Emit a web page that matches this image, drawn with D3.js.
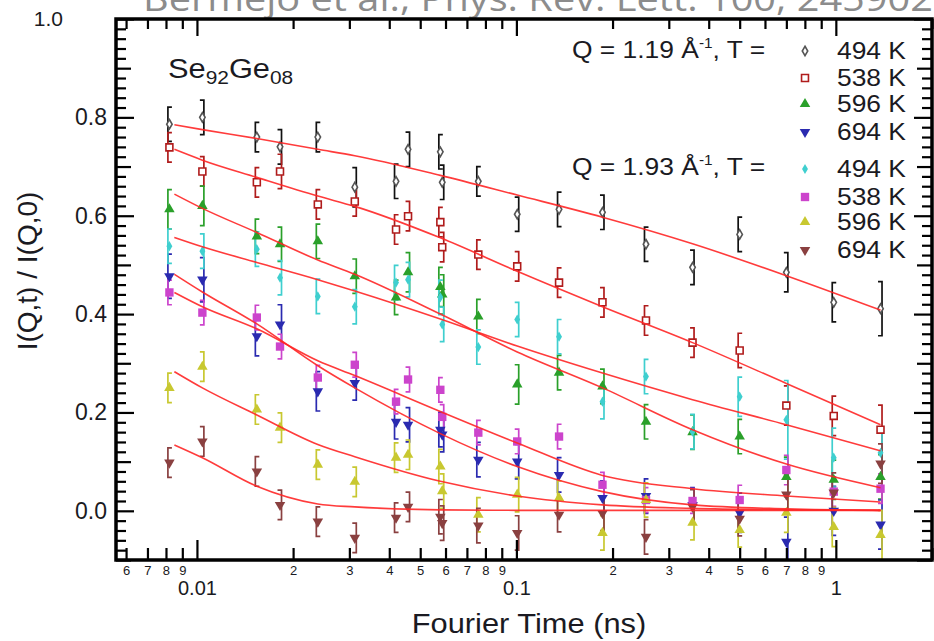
<!DOCTYPE html>
<html>
<head>
<meta charset="utf-8">
<script src="https://cdnjs.cloudflare.com/ajax/libs/d3/7.8.5/d3.min.js"></script>
<style>
  body { margin: 0; background: #fff; }
  svg { display: block; }
  text { font-family: "Liberation Sans", Arial, sans-serif; fill: #1a1a22; }
</style>
</head>
<body>
<svg id="chart" width="934" height="641"></svg>
<script>
// Fourier times (ns) of the measured points
const times = [0.0082, 0.0104, 0.0154, 0.0182, 0.0239, 0.0312, 0.0420, 0.0458, 0.0578, 0.0586,
               0.0760, 0.1006, 0.136, 0.186, 0.2545, 0.356, 0.500, 0.700, 0.985, 1.38];

// Q = 1.19 A^-1
const q119_494 = [0.786, 0.80, 0.76, 0.74, 0.76, 0.658, 0.67, 0.735, 0.73, 0.668, 0.67, 0.603, 0.613, 0.607, 0.542, 0.495, 0.562, 0.485, 0.424, 0.411];
const q119_538 = [0.739, 0.69, 0.668, 0.69, 0.623, 0.629, 0.572, 0.599, 0.587, 0.536, 0.521, 0.497, 0.464, 0.424, 0.387, 0.342, 0.326, 0.214, 0.193, 0.165];
const q119_596 = [0.613, 0.62, 0.558, 0.542, 0.548, 0.477, 0.434, 0.485, 0.455, 0.44, 0.395, 0.257, 0.281, 0.253, 0.181, 0.16, 0.151, 0.069, 0.063, 0.069];
const q119_694 = [0.477, 0.47, 0.355, 0.379, 0.243, 0.26, 0.181, 0.175, 0.165, 0.155, 0.104, 0.10, 0.073, 0.026, 0.03, 0.012, -0.004, -0.063, 0.0, -0.028];
// Q = 1.93 A^-1
const q193_494 = [0.538, 0.528, 0.532, 0.474, 0.436, 0.415, 0.464, 0.47, 0.434, 0.379, 0.333, 0.389, 0.354, 0.222, 0.273, 0.161, 0.232, 0.185, 0.108, 0.118];
const q193_538 = [0.444, 0.403, 0.393, 0.334, 0.271, 0.297, 0.222, 0.267, 0.246, 0.191, 0.159, 0.141, 0.151, 0.053, 0.022, 0.02, 0.022, 0.083, 0.039, 0.045];
const q193_596 = [0.25, 0.293, 0.206, 0.169, 0.094, 0.059, 0.108, 0.114, 0.09, 0.04, -0.008, 0.033, 0.026, -0.045, 0.022, -0.024, -0.039, -0.004, -0.033, -0.049];
const q193_694 = [0.098, 0.141, 0.08, 0.012, -0.022, -0.055, -0.014, 0.008, -0.012, -0.025, -0.03, -0.045, -0.008, -0.005, -0.053, 0.008, -0.016, 0.033, 0.037, 0.096];

// error bar half heights
const e119_494 = [0.035, 0.035, 0.03, 0.035, 0.03, 0.04, 0.035, 0.035, 0.035, 0.035, 0.03, 0.035, 0.035, 0.035, 0.035, 0.035, 0.035, 0.04, 0.04, 0.055];
const e119_538 = [0.03, 0.03, 0.03, 0.035, 0.03, 0.03, 0.03, 0.03, 0.03, 0.03, 0.03, 0.03, 0.03, 0.03, 0.03, 0.03, 0.035, 0.04, 0.04, 0.05];
const e119_596 = [0.04, 0.04, 0.035, 0.035, 0.035, 0.035, 0.035, 0.04, 0.04, 0.04, 0.035, 0.04, 0.035, 0.035, 0.035, 0.035, 0.035, 0.04, 0.04, 0.045];
const e119_694 = [0.045, 0.045, 0.04, 0.04, 0.04, 0.035, 0.035, 0.035, 0.035, 0.035, 0.035, 0.035, 0.035, 0.035, 0.035, 0.035, 0.04, 0.05, 0.05, 0.05];
const e193_494 = [0.035, 0.035, 0.035, 0.035, 0.035, 0.035, 0.035, 0.035, 0.035, 0.035, 0.035, 0.035, 0.035, 0.035, 0.035, 0.035, 0.04, 0.08, 0.06, 0.05];
const e193_538 = [0.025, 0.025, 0.025, 0.025, 0.025, 0.025, 0.025, 0.025, 0.025, 0.025, 0.025, 0.025, 0.025, 0.025, 0.025, 0.025, 0.03, 0.03, 0.03, 0.03];
const e193_596 = [0.03, 0.03, 0.03, 0.03, 0.03, 0.03, 0.03, 0.03, 0.035, 0.035, 0.035, 0.035, 0.035, 0.035, 0.035, 0.035, 0.035, 0.04, 0.04, 0.05];
const e193_694 = [0.03, 0.03, 0.03, 0.03, 0.03, 0.03, 0.03, 0.03, 0.035, 0.035, 0.035, 0.035, 0.035, 0.035, 0.035, 0.035, 0.035, 0.04, 0.04, 0.04];

const fitTimes = [0.0085, 0.0104, 0.0154, 0.0239, 0.0312, 0.0578, 0.1006, 0.186, 0.356, 0.70, 1.38];
const f119_494 = [0.785, 0.775, 0.757, 0.735, 0.722, 0.682, 0.642, 0.597, 0.543, 0.478, 0.408];
const f119_538 = [0.735, 0.713, 0.678, 0.64, 0.619, 0.555, 0.487, 0.415, 0.342, 0.259, 0.175];
const f119_596 = [0.644, 0.615, 0.566, 0.51, 0.481, 0.40, 0.323, 0.25, 0.165, 0.095, 0.047];
const f119_694 = [0.481, 0.445, 0.38, 0.295, 0.25, 0.157, 0.09, 0.039, 0.012, 0.004, 0.001];
const f193_494 = [0.556, 0.537, 0.505, 0.47, 0.447, 0.39, 0.335, 0.28, 0.226, 0.175, 0.122];
const f193_538 = [0.444, 0.415, 0.37, 0.305, 0.275, 0.202, 0.138, 0.072, 0.045, 0.03, 0.018];
const f193_596 = [0.283, 0.25, 0.195, 0.135, 0.11, 0.06, 0.03, 0.012, 0.005, 0.002, 0.001];
const f193_694 = [0.134, 0.108, 0.05, 0.014, 0.008, 0.002, 0.001, 0.001, 0.001, 0.001, 0.001];

const tempLabels = ['494 K', '538 K', '596 K', '694 K'];
const qHeaders = ['1.19', '1.93'];
const xMajor = [0.01, 0.1, 1];
const xMinor = [0.006, 0.007, 0.008, 0.009,
  0.02, 0.03, 0.04, 0.05, 0.06, 0.07, 0.08, 0.09,
  0.2, 0.3, 0.4, 0.5, 0.6, 0.7, 0.8, 0.9, 2];

const series = [
  {v: q119_494, e: e119_494, f: f119_494, color: '#111', mfill: '#fff', mstroke: '#555', sym: d3.symbolDiamond, size: 26, rot: 0},
  {v: q119_538, e: e119_538, f: f119_538, color: '#b01c1c', mfill: '#fff', mstroke: '#b01c1c', sym: d3.symbolSquare, size: 48, rot: 0},
  {v: q119_596, e: e119_596, f: f119_596, color: '#2aa02a', mfill: '#2aa02a', mstroke: 'none', sym: d3.symbolTriangle, size: 48, rot: 0},
  {v: q119_694, e: e119_694, f: f119_694, color: '#2a2ab0', mfill: '#2a2ab0', mstroke: 'none', sym: d3.symbolTriangle, size: 48, rot: 180},
  {v: q193_494, e: e193_494, f: f193_494, color: '#3fcfcf', mfill: '#3fcfcf', mstroke: 'none', sym: d3.symbolDiamond, size: 30, rot: 0},
  {v: q193_538, e: e193_538, f: f193_538, color: '#cc44cc', mfill: '#cc44cc', mstroke: 'none', sym: d3.symbolSquare, size: 70, rot: 0},
  {v: q193_596, e: e193_596, f: f193_596, color: '#c8c830', mfill: '#c8c830', mstroke: 'none', sym: d3.symbolTriangle, size: 48, rot: 0},
  {v: q193_694, e: e193_694, f: f193_694, color: '#8a4040', mfill: '#8a4040', mstroke: 'none', sym: d3.symbolTriangle, size: 48, rot: 180}
];

const svg = d3.select('#chart');
const pLeft = 116, pRight = 932, pTop = 19, pBottom = 560;

const x = d3.scaleLog().domain([0.00558, 2.0]).range([pLeft, pRight]);
const y = d3.scaleLinear().domain([-0.1, 1.0]).range([pBottom, pTop]);

// title strip, cut off by the top edge
svg.append('text')
  .attr('x', 143).attr('y', 11)
  .attr('textLength', 790).attr('lengthAdjust', 'spacingAndGlyphs')
  .style('font-family', '"Open Sans", sans-serif')
  .style('font-size', '34px')
  .style('fill', '#8c8c8c')
  .text('Bermejo et al., Phys. Rev. Lett. 100, 245902');

const plot = svg.append('g');
plot.append('defs').append('clipPath').attr('id', 'clip')
  .append('rect').attr('x', pLeft).attr('y', pTop).attr('width', pRight - pLeft).attr('height', pBottom - pTop);

// error bars, drawn as brackets
series.forEach(s => {
  const g = plot.append('g').attr('clip-path', 'url(#clip)')
    .attr('stroke', s.color).attr('stroke-width', 1.7).attr('fill', 'none');
  s.v.forEach((v, i) => {
    const px = x(times[i]);
    const y0 = y(v - s.e[i]), y1 = y(v + s.e[i]);
    const dir = i % 2 === 0 ? 1 : -1;
    const bx = px - dir * 1.5;
    g.append('path')
      .attr('d', `M${bx + dir * 4},${y1}H${bx}V${y0}H${bx + dir * 4}`);
  });
});

// markers
series.forEach(s => {
  const sym = d3.symbol().type(s.sym).size(s.size);
  plot.append('g').attr('clip-path', 'url(#clip)')
    .selectAll('path').data(s.v).join('path')
    .attr('d', sym)
    .attr('transform', (v, i) => `translate(${x(times[i])},${y(v)}) rotate(${s.rot})`)
    .attr('fill', s.mfill)
    .attr('stroke', s.mstroke)
    .attr('stroke-width', 1.6);
});

// fitted curves
const line = d3.line()
  .x((d, i) => x(fitTimes[i]))
  .y(d => y(d))
  .curve(d3.curveMonotoneX);
series.forEach(s => {
  plot.append('path')
    .attr('d', line(s.f))
    .attr('fill', 'none')
    .attr('stroke', '#ff2626')
    .attr('stroke-width', 1.6)
    .attr('stroke-opacity', 0.9);
});

// axes: ticks point inward on all four sides
function styleAxis(g) {
  g.select('.domain').remove();
  g.selectAll('line').attr('stroke', '#000').attr('stroke-width', 2.2);
  return g;
}
const yMajor = d3.range(0, 1.01, 0.2);
const yMid = d3.range(-0.1, 1.0, 0.2);
const yMinor = d3.range(-0.08, 1.0, 0.02).filter(v => Math.abs(Math.round(v * 10) - v * 10) > 0.01);

svg.append('g').attr('transform', `translate(0,${pBottom})`)
  .call(d3.axisBottom(x).tickValues(xMinor).tickSize(-12).tickPadding(6)
    .tickFormat(d => d > 1 ? '' : String(Math.round(d / Math.pow(10, Math.floor(Math.log10(d) + 1e-9))))))
  .call(styleAxis)
  .selectAll('text').style('font-size', '13px');
svg.append('g').attr('transform', `translate(0,${pBottom})`)
  .call(d3.axisBottom(x).tickValues(xMajor).tickSize(-20).tickPadding(21).tickFormat(d => String(d)))
  .call(styleAxis)
  .selectAll('text').style('font-size', '20px');
svg.append('g').attr('transform', `translate(0,${pTop})`)
  .call(d3.axisTop(x).tickValues(xMinor).tickSize(-10).tickFormat(''))
  .call(styleAxis);
svg.append('g').attr('transform', `translate(0,${pTop})`)
  .call(d3.axisTop(x).tickValues(xMajor).tickSize(-17).tickFormat(''))
  .call(styleAxis);

const yLabels = svg.append('g').attr('transform', `translate(${pLeft},0)`)
  .call(d3.axisLeft(y).tickValues(yMajor).tickSize(-18).tickPadding(9).tickFormat(d3.format('.1f')))
  .call(styleAxis);
yLabels.selectAll('.tick text')
  .style('font-size', d => d > 0.99 ? '21px' : '23px')
  .attr('x', d => d > 0.99 ? 63 - pLeft : -9);   // top label sits further out in the original

svg.append('g').attr('transform', `translate(${pLeft},0)`)
  .call(d3.axisLeft(y).tickValues(yMid).tickSize(-15).tickFormat(''))
  .call(styleAxis);
svg.append('g').attr('transform', `translate(${pLeft},0)`)
  .call(d3.axisLeft(y).tickValues(yMinor).tickSize(-10).tickFormat(''))
  .call(styleAxis);
svg.append('g').attr('transform', `translate(${pRight},0)`)
  .call(d3.axisRight(y).tickValues(yMajor).tickSize(-18).tickFormat(''))
  .call(styleAxis);
svg.append('g').attr('transform', `translate(${pRight},0)`)
  .call(d3.axisRight(y).tickValues(yMid).tickSize(-15).tickFormat(''))
  .call(styleAxis);
svg.append('g').attr('transform', `translate(${pRight},0)`)
  .call(d3.axisRight(y).tickValues(yMinor).tickSize(-10).tickFormat(''))
  .call(styleAxis);

// frame
svg.append('rect')
  .attr('x', pLeft).attr('y', pTop).attr('width', pRight - pLeft).attr('height', pBottom - pTop)
  .attr('fill', 'none').attr('stroke', '#000').attr('stroke-width', 3.5);

// text stretched a little horizontally, like the scanned figure
function stext(x0, y0, size, anchor) {
  return svg.append('text')
    .attr('transform', `translate(${x0},${y0}) scale(1.1,1)`)
    .attr('text-anchor', anchor || 'start')
    .style('font-size', size + 'px');
}

stext(529, 633, 28, 'middle').text('Fourier Time (ns)');
svg.append('text')
  .attr('transform', 'translate(37,271) rotate(-90)')
  .attr('text-anchor', 'middle')
  .style('font-size', '28px')
  .text('I(Q,t) / I(Q,0)');

const comp = stext(168, 78, 28);
comp.append('tspan').text('Se');
comp.append('tspan').attr('dy', 6).style('font-size', '19px').text('92');
comp.append('tspan').attr('dy', -6).text('Ge');
comp.append('tspan').attr('dy', 6).style('font-size', '19px').text('08');

// legend
const headerY = [58, 175];
const rowY = [[59, 86, 112, 140], [177, 205, 230, 258]];
qHeaders.forEach((q, gi) => {
  const t = stext(572, headerY[gi], 24);
  t.append('tspan').text(`Q = ${q} Å`);
  t.append('tspan').attr('dy', -10).style('font-size', '14px').text('-1');
  t.append('tspan').attr('dy', 10).text(', T =');
  tempLabels.forEach((lab, ri) => {
    const s = series[gi * 4 + ri];
    svg.append('path')
      .attr('d', d3.symbol().type(s.sym).size(s.size)())
      .attr('transform', `translate(805,${rowY[gi][ri] - 8}) rotate(${s.rot})`)
      .attr('fill', s.mfill).attr('stroke', s.mstroke).attr('stroke-width', 1.6);
    stext(837, rowY[gi][ri], 24).text(lab);
  });
});
</script>
</body>
</html>
